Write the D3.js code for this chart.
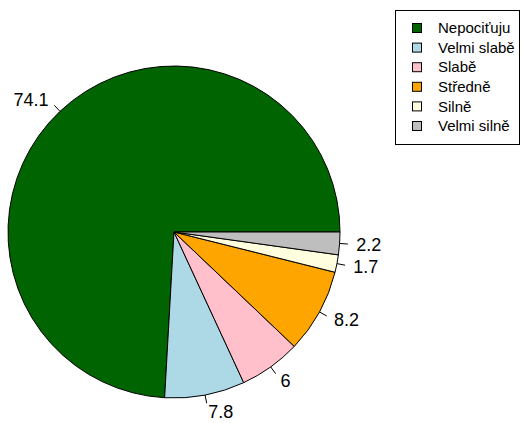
<!DOCTYPE html>
<html>
<head>
<meta charset="utf-8">
<script src="https://cdn.jsdelivr.net/npm/d3@7"></script>
<style>
  body { margin: 0; background: #fff; }
  svg { display: block; font-family: "Liberation Sans", Arial, sans-serif; }
</style>
</head>
<body>
<div id="chart"></div>
<script>
// data
const categories = ["Nepociťuju", "Velmi slabě", "Slabě", "Středně", "Silně", "Velmi silně"];
const values = [74.1, 7.8, 6, 8.2, 1.7, 2.2];
const colors = ["#006400", "#ADD8E6", "#FFC0CB", "#FFA500", "#FFFFE0", "#BEBEBE"];

const width = 523, height = 423;
const cx = 174, cy = 232, r = 166;

const svg = d3.select("#chart").append("svg")
    .attr("width", width)
    .attr("height", height);

// R style pie: start at 3 o'clock, counterclockwise
// d3 angles: 0 = 12 o'clock, clockwise. so use start = PI/2, end = PI/2 - 2PI
const pie = d3.pie().sort(null)
    .startAngle(Math.PI / 2)
    .endAngle(Math.PI / 2 - 2 * Math.PI);

const arcs = pie(values);
const arc = d3.arc().innerRadius(0).outerRadius(r);

const g = svg.append("g").attr("transform", `translate(${cx},${cy})`);

g.selectAll("path.slice")
    .data(arcs)
    .enter().append("path")
    .attr("class", "slice")
    .attr("d", arc)
    .attr("fill", (d, i) => colors[i])
    .attr("stroke", "#000")
    .attr("stroke-width", 1);

// ticks + labels
arcs.forEach((d, i) => {
    const a = (d.startAngle + d.endAngle) / 2;
    const x = Math.sin(a), y = -Math.cos(a);
    g.append("line")
        .attr("x1", x * r).attr("y1", y * r)
        .attr("x2", x * r * 1.05).attr("y2", y * r * 1.05)
        .attr("stroke", "#000");
    g.append("text")
        .attr("x", x * r * 1.1)
        .attr("y", y * r * 1.1)
        .attr("dy", "0.35em")
        .attr("text-anchor", x >= 0 ? "start" : "end")
        .attr("font-size", 18)
        .attr("fill", "#000")
        .text(values[i]);
});

// legend
const lg = svg.append("g");
lg.append("rect")
    .attr("x", 395.5).attr("y", 10.5)
    .attr("width", 124).attr("height", 134)
    .attr("fill", "#fff")
    .attr("stroke", "#000");

const y0 = 28, step = 19.6;
categories.forEach((c, i) => {
    lg.append("rect")
        .attr("x", 412.5).attr("y", y0 + i * step - 4.5)
        .attr("width", 9).attr("height", 9)
        .attr("fill", colors[i])
        .attr("stroke", "#000");
    lg.append("text")
        .attr("x", 438)
        .attr("y", y0 + i * step)
        .attr("dy", "0.35em")
        .attr("font-size", 15)
        .text(c);
});
</script>
</body>
</html>
